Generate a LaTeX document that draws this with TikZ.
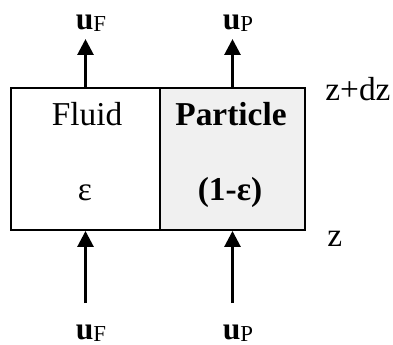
\documentclass[tikz,border=0pt]{standalone}
\usepackage{fontspec}
\setmainfont{Liberation Serif}
\definecolor{cellgray}{HTML}{F0F0F0}
\usetikzlibrary{arrows.meta,positioning}

\begin{document}
\begin{tikzpicture}[x=0.02cm,y=-0.02cm,font=\fontsize{19}{22}\selectfont]
        \tikzset{
            cellbox/.style={
                draw=black,
                fill=white,
                line width=1.1pt,
                inner sep=0pt,
                minimum height=2.84cm
            },
            particlebox/.style={
                cellbox,
                fill=cellgray
            },
            celltext/.style={
                anchor=base,
                inner sep=0pt
            },
            velolabel/.style={
                anchor=base,
                inner sep=0pt,
                font=\fontsize{18}{20}\selectfont
            },
            flowarrow/.style={
                -{Triangle[length=3.2mm,width=3.2mm]},
                draw=black,
                line width=1.6pt
            }
        }
        \useasboundingbox (0,0) rectangle (393,345);

        % the two phases of the slice
        \node[cellbox, minimum width=2.98cm] (fluid) at (85.5,159) {};
        \node[particlebox, minimum width=2.9cm] (particle) at (232.5,159) {};

        \node[celltext] (fluidname) at (87,125) {Fluid};
        \node[celltext] (fluideps) at (85,200) {ε};
        \node[celltext, font=\fontsize{19}{22}\selectfont\bfseries]
            (particlename) at (231,125) {Particle};
        \node[celltext, font=\fontsize{19}{22}\selectfont\bfseries]
            (particleeps) at (230,200) {(1-ε)};

        % heights
        \node[celltext, anchor=base west] (ztop) at (325,100) {z+dz};
        \node[celltext, anchor=base west] (zbot) at (327,246) {z};

        % velocities in and out
        \coordinate (fluidout) at (85.5,39);
        \coordinate (particleout) at (232.5,39);
        \coordinate (fluidin) at (85.5,303);
        \coordinate (particlein) at (232.5,303);

        \node[velolabel] (uFout) at (91,29) {\textbf{u}\raisebox{-1.5pt}{\fontsize{13}{14}\selectfont F}};
        \node[velolabel] (uPout) at (238,29) {\textbf{u}\raisebox{-1.5pt}{\fontsize{13}{14}\selectfont P}};
        \node[velolabel] (uFin) at (91,339) {\textbf{u}\raisebox{-1.5pt}{\fontsize{13}{14}\selectfont F}};
        \node[velolabel] (uPin) at (238,339) {\textbf{u}\raisebox{-1.5pt}{\fontsize{13}{14}\selectfont P}};

        \draw[flowarrow] (fluid.north) -- (fluidout);
        \draw[flowarrow] (particle.north) -- (particleout);
        \draw[flowarrow] (fluidin) -- (fluid.south);
        \draw[flowarrow] (particlein) -- (particle.south);
    \end{tikzpicture}
\end{document}
